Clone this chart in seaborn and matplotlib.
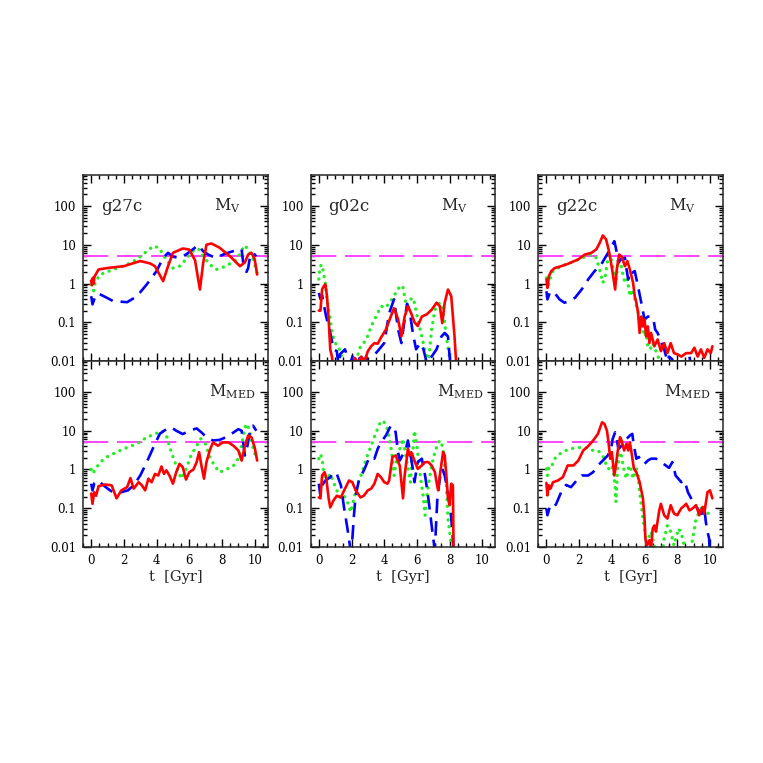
import numpy as np
import pandas as pd
import matplotlib
matplotlib.use("Agg")
import matplotlib.pyplot as plt
import seaborn as sns
from matplotlib.ticker import FixedLocator, LogLocator, MultipleLocator, NullFormatter

# ---------------- data ----------------
galaxies = ["g27c", "g02c", "g22c"]
rows = ["V", "MED"]

# g27c, M_V
a_v_red_t = [0, 0.05, 0.1, 0.15, 0.2, 0.45, 0.95, 2.0, 3.0, 3.6, 3.9, 4.4, 4.7, 5.0, 5.6, 6.0, 6.35, 6.65, 6.85, 7.05, 7.35, 7.85, 8.5, 9.1, 9.4, 9.6, 9.8, 10.0, 10.15]
a_v_red_y = [1.2, 0.9, 1.4, 1.0, 1.5, 2.3, 2.5, 2.8, 3.8, 3.3, 2.8, 1.15, 2.8, 6.2, 8.0, 7.5, 4.0, 0.7, 3.4, 10.0, 10.8, 8.4, 5.0, 2.8, 3.5, 5.6, 6.2, 4.2, 1.7]
a_v_blue_t = [0, 0.08, 0.25, 0.45, 0.95, 1.35, 2.2, 2.8, 3.4, 4.0, 4.4, 4.7, 5.0, 5.4, 5.8, 6.2, 6.55, 6.85, 7.15, 7.6, 8.25, 8.9, 9.2, 9.35, 9.5, 9.6, 9.7, 9.9, 10.1]
a_v_blue_y = [0.47, 0.29, 0.47, 0.55, 0.43, 0.35, 0.33, 0.47, 0.95, 2.1, 4.6, 6.2, 4.9, 4.6, 5.6, 7.5, 9.8, 6.8, 5.6, 4.6, 6.0, 7.3, 7.5, 2.3, 2.0, 2.5, 4.5, 6.2, 5.0]
a_v_green_t = [0, 0.15, 0.25, 0.55, 1.35, 2.2, 2.8, 3.4, 3.8, 4.15, 4.45, 4.75, 5.0, 5.4, 5.8, 6.2, 6.55, 6.85, 7.25, 7.65, 8.25, 8.9, 9.3, 9.4, 9.6, 9.9, 10.15]
a_v_green_y = [0.95, 0.65, 1.1, 1.7, 2.3, 3.1, 4.2, 6.8, 9.2, 8.4, 5.1, 3.4, 2.5, 2.8, 4.2, 6.8, 8.0, 5.0, 3.1, 2.3, 2.8, 4.2, 8.4, 9.6, 7.5, 4.2, 1.9]

# g27c, M_MED
a_m_red_t = [0, 0.08, 0.18, 0.3, 0.45, 0.85, 1.25, 1.55, 1.85, 2.2, 2.4, 2.6, 2.9, 3.1, 3.3, 3.5, 3.7, 3.9, 4.1, 4.3, 4.45, 4.6, 4.8, 5.0, 5.2, 5.4, 5.6, 5.8, 6.0, 6.25, 6.45, 6.6, 6.75, 6.9, 7.05, 7.25, 7.45, 7.75, 8.05, 8.4, 8.7, 9.0, 9.2, 9.4, 9.6, 9.8, 10.0, 10.15]
a_m_red_y = [0.24, 0.13, 0.26, 0.21, 0.37, 0.41, 0.39, 0.18, 0.29, 0.35, 0.6, 0.32, 0.47, 0.39, 0.29, 0.58, 0.47, 0.77, 0.7, 1.2, 0.77, 0.95, 0.68, 0.43, 0.85, 1.4, 1.15, 0.55, 0.85, 1.0, 1.55, 2.8, 1.2, 0.58, 1.55, 3.1, 5.0, 4.1, 5.0, 5.0, 4.1, 3.1, 1.7, 4.1, 7.5, 6.8, 3.7, 1.7]
a_m_blue_t = [0, 0.08, 0.2, 0.45, 0.75, 1.15, 1.45, 1.85, 2.25, 2.6, 3.0, 3.4, 3.8, 4.2, 4.6, 4.9, 5.2, 5.6, 6.0, 6.45, 6.75, 7.05, 7.45, 7.85, 8.25, 8.7, 9.0, 9.2, 9.4, 9.55, 9.7, 9.9, 10.1]
a_m_blue_y = [0.43, 0.29, 0.45, 0.52, 0.39, 0.29, 0.24, 0.26, 0.29, 0.39, 0.7, 1.55, 3.7, 8.4, 11, 12.3, 10, 8.2, 10, 11.5, 9, 6.8, 5.6, 5.8, 6.8, 9, 11, 10, 2.3, 4.0, 9, 13.5, 10]
a_m_green_t = [0, 0.1, 0.25, 0.55, 0.95, 1.55, 2.2, 2.8, 3.4, 3.9, 4.3, 4.6, 4.9, 5.2, 5.5, 5.8, 6.1, 6.45, 6.7, 7.0, 7.25, 7.55, 7.85, 8.25, 8.7, 9.0, 9.2, 9.4, 9.55, 9.7, 9.9, 10.1]
a_m_green_y = [1.0, 0.78, 1.0, 1.55, 2.1, 2.8, 3.7, 4.6, 6.8, 8.2, 10, 7.5, 2.8, 1.25, 0.58, 1.0, 2.3, 4.1, 6.2, 4.5, 2.1, 1.25, 0.85, 1.0, 1.25, 1.9, 4.1, 12.3, 15, 9, 3.7, 1.9]

# g02c, M_V
b_v_red_t = [0, 0.1, 0.2, 0.3, 0.4, 0.5, 0.6, 0.7, 0.8, 0.9, 1.1, 1.5, 2.0, 2.2, 2.4, 2.6, 2.8, 3.0, 3.2, 3.4, 3.6, 3.8, 4.1, 4.4, 4.6, 4.85, 5.05, 5.25, 5.45, 5.65, 5.85, 6.05, 6.3, 6.6, 6.9, 7.2, 7.4, 7.55, 7.7, 7.9, 8.1, 8.3, 8.45]
b_v_red_y = [0.2, 0.2, 0.7, 0.85, 0.95, 0.47, 0.12, 0.02, 0.013, 0.006, 0.004, 0.003, 0.006, 0.012, 0.009, 0.013, 0.01, 0.018, 0.024, 0.029, 0.028, 0.04, 0.065, 0.14, 0.23, 0.12, 0.043, 0.14, 0.26, 0.17, 0.1, 0.08, 0.14, 0.16, 0.21, 0.32, 0.26, 0.095, 0.32, 0.7, 0.47, 0.043, 0.004]
b_v_blue_t = [0, 0.1, 0.2, 0.3, 0.45, 0.7, 0.9, 1.1, 1.2, 1.3, 1.6, 1.9, 2.1, 2.3, 2.5, 2.7, 2.9, 3.1, 3.3, 3.6, 4.0, 4.3, 4.6, 4.85, 5.05, 5.25, 5.4, 5.55, 5.75, 5.95, 6.2, 6.4, 6.6, 6.9, 7.2, 7.5, 7.7, 7.9, 8.0, 8.1]
b_v_blue_y = [0.57, 0.4, 0.5, 0.3, 0.14, 0.053, 0.02, 0.018, 0.008, 0.015, 0.02, 0.008, 0.015, 0.005, 0.012, 0.006, 0.013, 0.005, 0.013, 0.018, 0.029, 0.17, 0.39, 0.065, 0.029, 0.12, 0.3, 0.2, 0.053, 0.02, 0.029, 0.02, 0.009, 0.013, 0.02, 0.043, 0.053, 0.043, 0.013, 0.004]
b_v_green_t = [0, 0.05, 0.15, 0.25, 0.4, 0.5, 0.7, 0.8, 1.0, 1.2, 1.45, 1.65, 1.9, 2.1, 2.3, 2.55, 2.9, 3.2, 3.5, 3.8, 4.1, 4.4, 4.7, 5.0, 5.15, 5.35, 5.55, 5.7, 5.85, 6.05, 6.3, 6.5, 6.7, 6.9, 7.1, 7.4, 7.6, 7.8, 8.0, 8.2]
b_v_green_y = [1.3, 2.3, 3.1, 2.3, 1.0, 0.38, 0.12, 0.055, 0.029, 0.024, 0.011, 0.008, 0.006, 0.008, 0.011, 0.024, 0.035, 0.078, 0.14, 0.26, 0.24, 0.35, 0.57, 0.9, 0.78, 0.26, 0.35, 0.43, 0.32, 0.12, 0.043, 0.018, 0.009, 0.065, 0.21, 0.32, 0.21, 0.043, 0.012, 0.005]

# g02c, M_MED
b_m_red_t = [0, 0.1, 0.2, 0.35, 0.45, 0.6, 0.7, 0.9, 1.1, 1.35, 1.55, 1.85, 2.05, 2.25, 2.55, 2.75, 3.0, 3.2, 3.4, 3.6, 3.8, 4.0, 4.2, 4.3, 4.5, 4.7, 4.95, 5.15, 5.25, 5.45, 5.55, 5.65, 5.85, 6.05, 6.3, 6.5, 6.7, 6.9, 7.1, 7.2, 7.3, 7.4, 7.6, 7.7, 7.8, 7.9, 8.0, 8.1, 8.2, 8.25]
b_m_red_y = [0.19, 0.18, 0.7, 0.85, 0.63, 0.18, 0.105, 0.16, 0.21, 0.19, 0.29, 0.52, 0.47, 0.29, 0.19, 0.21, 0.29, 0.32, 0.43, 0.77, 0.63, 0.47, 0.43, 0.52, 2.1, 2.3, 1.25, 0.18, 0.7, 3.4, 2.3, 2.8, 1.7, 1.04, 1.27, 1.55, 1.55, 1.27, 0.85, 0.47, 0.29, 0.7, 2.8, 2.3, 0.7, 0.18, 0.12, 0.43, 0.39, 0.004]
b_m_blue_t = [0, 0.1, 0.2, 0.4, 0.7, 0.9, 1.1, 1.35, 1.55, 1.75, 1.9, 1.95, 2.05, 2.15, 2.25, 2.45, 2.8, 3.1, 3.4, 3.6, 3.8, 4.1, 4.4, 4.6, 4.7, 4.85, 4.95, 5.15, 5.35, 5.45, 5.6, 5.75, 5.85, 6.05, 6.3, 6.5, 6.7, 6.85, 7.0, 7.1, 7.25, 7.4, 7.55, 7.7, 7.9, 8.0, 8.1, 8.2, 8.3]
b_m_blue_y = [0.43, 0.21, 0.39, 0.52, 0.63, 0.85, 0.77, 0.39, 0.1, 0.03, 0.011, 0.004, 0.016, 0.066, 0.21, 0.52, 1.04, 2.1, 1.9, 3.4, 5.0, 7.5, 13.5, 12.3, 9, 2.8, 1.7, 2.5, 3.75, 5.6, 2.5, 1.04, 0.47, 1.55, 1.9, 0.7, 0.18, 0.054, 0.016, 0.009, 0.18, 0.58, 1.04, 0.7, 0.26, 0.145, 0.054, 0.016, 0.004]
b_m_green_t = [0, 0.1, 0.2, 0.3, 0.4, 0.5, 0.7, 0.9, 1.1, 1.35, 1.55, 1.75, 1.95, 2.15, 2.35, 2.65, 2.9, 3.2, 3.5, 3.8, 4.0, 4.2, 4.4, 4.5, 4.6, 4.8, 4.95, 5.15, 5.35, 5.45, 5.6, 5.75, 5.85, 6.0, 6.15, 6.4, 6.5, 6.6, 6.7, 6.9, 7.1, 7.3, 7.45, 7.6, 7.8, 7.9, 8.0, 8.1, 8.2]
b_m_green_y = [1.9, 2.5, 1.9, 0.85, 0.47, 0.58, 0.77, 0.47, 0.29, 0.18, 0.21, 0.145, 0.08, 0.18, 0.39, 0.85, 1.9, 4.1, 9, 18, 16.5, 11, 4.1, 1.9, 0.7, 2.3, 3.4, 6.2, 1.9, 1.04, 0.47, 2.8, 10, 4.1, 1.04, 0.18, 0.066, 0.18, 0.39, 1.27, 2.8, 5.0, 5.6, 3.4, 0.39, 0.054, 0.025, 0.011, 0.004]

# g22c, M_V
c_v_red_t = [0, 0.06, 0.15, 0.3, 0.5, 0.9, 1.3, 1.95, 2.35, 2.75, 3.05, 3.25, 3.45, 3.65, 3.8, 3.9, 4.05, 4.2, 4.3, 4.45, 4.6, 4.8, 4.95, 5.1, 5.3, 5.4, 5.5, 5.6, 5.7, 5.8, 5.9, 6.0, 6.1, 6.2, 6.3, 6.4, 6.6, 6.8, 7.0, 7.2, 7.4, 7.6, 7.8, 8.0, 8.25, 8.55, 8.85, 9.05, 9.25, 9.45, 9.65, 9.85, 10.05, 10.15]
c_v_red_y = [1.27, 0.77, 1.55, 2.1, 2.5, 2.8, 3.2, 4.2, 5.6, 6.2, 7.6, 11, 17.4, 13.7, 7.6, 4.6, 1.9, 0.7, 2.3, 5.6, 4.9, 2.8, 3.8, 2.3, 1.04, 0.47, 0.32, 0.18, 0.053, 0.14, 0.078, 0.117, 0.043, 0.078, 0.029, 0.053, 0.024, 0.036, 0.018, 0.029, 0.016, 0.029, 0.016, 0.015, 0.013, 0.016, 0.016, 0.022, 0.013, 0.02, 0.012, 0.02, 0.016, 0.024]
c_v_blue_t = [0, 0.06, 0.2, 0.3, 0.5, 0.8, 1.1, 1.4, 1.75, 2.15, 2.55, 2.95, 3.35, 3.65, 3.95, 4.15, 4.25, 4.4, 4.55, 4.8, 4.9, 5.0, 5.1, 5.25, 5.4, 5.6, 5.8, 6.0, 6.2, 6.4, 6.55, 6.65, 6.8, 7.0, 7.2, 7.4, 7.5, 7.7, 7.8, 8.0, 8.6, 8.75, 8.9]
c_v_blue_y = [0.63, 0.39, 0.57, 0.52, 0.57, 0.39, 0.32, 0.35, 0.43, 0.7, 1.27, 2.1, 3.1, 5.1, 8.2, 12.4, 8.2, 3.4, 4.2, 4.6, 2.3, 1.27, 2.1, 1.9, 2.1, 0.85, 0.32, 0.117, 0.14, 0.14, 0.117, 0.065, 0.053, 0.032, 0.02, 0.0098, 0.013, 0.011, 0.006, 0.005, 0.006, 0.013, 0.005]
c_v_green_t = [0, 0.1, 0.2, 0.4, 0.9, 1.75, 2.35, 2.75, 3.05, 3.25, 3.45, 3.6, 3.75, 3.9, 4.0, 4.15, 4.25, 4.35, 4.5, 4.65, 4.8, 4.95, 5.1, 5.25, 5.4, 5.55, 5.7, 5.8, 5.9, 6.0, 6.1, 6.2, 6.35, 6.5, 6.65, 6.8, 7.0]
c_v_green_y = [1.4, 0.77, 1.27, 2.1, 2.8, 3.8, 4.9, 5.6, 4.6, 2.3, 1.04, 1.55, 4.2, 5.6, 3.4, 1.9, 1.04, 2.8, 4.2, 1.9, 1.04, 1.27, 0.47, 0.7, 0.43, 0.21, 0.14, 0.078, 0.065, 0.043, 0.053, 0.024, 0.02, 0.029, 0.02, 0.0145, 0.007]

# g22c, M_MED
c_m_red_t = [0, 0.06, 0.15, 0.25, 0.4, 0.7, 1.0, 1.3, 1.65, 1.95, 2.25, 2.55, 2.85, 3.15, 3.4, 3.55, 3.7, 3.8, 3.9, 4.0, 4.15, 4.25, 4.35, 4.5, 4.6, 4.75, 4.9, 5.0, 5.1, 5.2, 5.35, 5.5, 5.7, 5.9, 6.0, 6.05, 6.15, 6.3, 6.4, 6.5, 6.6, 6.7, 6.9, 7.0, 7.2, 7.4, 7.6, 7.8, 8.0, 8.25, 8.35, 8.55, 8.75, 8.95, 9.15, 9.35, 9.55, 9.65, 9.85, 10.0, 10.15]
c_m_red_y = [0.45, 0.215, 0.39, 0.32, 0.47, 0.52, 0.63, 1.27, 1.27, 1.7, 3.1, 4.0, 5.55, 8.3, 16.5, 15, 10, 5.0, 1.9, 2.8, 0.7, 1.27, 2.8, 6.8, 5.55, 3.1, 4.6, 3.1, 5.0, 2.8, 1.04, 0.85, 0.47, 0.18, 0.054, 0.0165, 0.011, 0.015, 0.009, 0.03, 0.036, 0.025, 0.088, 0.13, 0.066, 0.054, 0.12, 0.073, 0.066, 0.1, 0.108, 0.13, 0.088, 0.1, 0.12, 0.066, 0.108, 0.073, 0.26, 0.29, 0.18]
c_m_blue_t = [0, 0.06, 0.2, 0.4, 0.6, 0.9, 1.2, 1.5, 1.85, 2.15, 2.55, 2.85, 3.15, 3.45, 3.75, 3.95, 4.05, 4.2, 4.3, 4.4, 4.6, 4.8, 5.1, 5.25, 5.35, 5.5, 5.65, 5.8, 6.0, 6.2, 6.4, 6.7, 7.0, 7.3, 7.5, 7.7, 7.9, 8.25, 8.45, 8.65, 8.85, 9.05, 9.25, 9.4, 9.55, 9.65, 9.75, 9.85, 9.95, 10.0]
c_m_blue_y = [0.098, 0.066, 0.108, 0.098, 0.13, 0.26, 0.4, 0.35, 0.52, 0.7, 0.7, 0.85, 1.27, 1.7, 2.3, 3.4, 6.1, 9.1, 6.1, 3.4, 4.1, 5.55, 7.5, 8.3, 4.1, 1.9, 2.1, 1.55, 1.4, 1.7, 1.9, 1.9, 1.55, 1.27, 1.1, 1.55, 0.7, 0.47, 0.52, 0.26, 0.18, 0.12, 0.098, 0.073, 0.073, 0.108, 0.044, 0.025, 0.0165, 0.005]
c_m_green_t = [0, 0.06, 0.15, 0.3, 0.5, 0.8, 1.2, 1.6, 2.15, 2.55, 2.85, 3.15, 3.35, 3.55, 3.7, 3.85, 4.0, 4.1, 4.2, 4.25, 4.35, 4.45, 4.55, 4.65, 4.8, 4.9, 5.0, 5.1, 5.2, 5.3, 5.4, 5.5, 5.6, 5.7, 5.8, 5.9, 6.0, 6.1, 6.2, 6.3, 6.4, 6.5, 6.65, 6.8, 7.0, 7.2, 7.4, 7.6, 7.8, 7.9, 8.1, 8.35, 8.45, 8.7, 8.95, 9.15, 9.35, 9.55, 9.75, 9.95, 10.05]
c_m_green_y = [1.04, 0.7, 1.15, 1.15, 1.9, 2.5, 3.1, 3.5, 3.75, 3.5, 3.1, 3.1, 2.5, 1.9, 1.1, 1.04, 1.27, 0.85, 0.39, 0.145, 1.04, 2.3, 2.8, 1.55, 0.77, 0.58, 1.04, 1.27, 0.85, 0.58, 0.77, 1.04, 0.7, 0.26, 0.12, 0.054, 0.03, 0.015, 0.0083, 0.02, 0.025, 0.0165, 0.009, 0.005, 0.004, 0.0165, 0.036, 0.025, 0.011, 0.0165, 0.03, 0.0165, 0.009, 0.005, 0.0165, 0.054, 0.08, 0.12, 0.098, 0.066, 0.08]

threshold = 5.0
x_ticks = [0, 2, 4, 6, 8, 10]
y_ticks = [0.01, 0.1, 1, 10, 100]
y_tick_labels = ["0.01", "0.1", "1", "10", "100"]

panels = {
    ("g27c", "V"): [(a_v_red_t, a_v_red_y), (a_v_blue_t, a_v_blue_y), (a_v_green_t, a_v_green_y)],
    ("g27c", "MED"): [(a_m_red_t, a_m_red_y), (a_m_blue_t, a_m_blue_y), (a_m_green_t, a_m_green_y)],
    ("g02c", "V"): [(b_v_red_t, b_v_red_y), (b_v_blue_t, b_v_blue_y), (b_v_green_t, b_v_green_y)],
    ("g02c", "MED"): [(b_m_red_t, b_m_red_y), (b_m_blue_t, b_m_blue_y), (b_m_green_t, b_m_green_y)],
    ("g22c", "V"): [(c_v_red_t, c_v_red_y), (c_v_blue_t, c_v_blue_y), (c_v_green_t, c_v_green_y)],
    ("g22c", "MED"): [(c_m_red_t, c_m_red_y), (c_m_blue_t, c_m_blue_y), (c_m_green_t, c_m_green_y)],
}

# ---------------- style ----------------
sns.set_style("ticks")
plt.rcParams["font.family"] = ["DejaVu Serif"]
plt.rcParams["mathtext.fontset"] = "dejavuserif"

styles = [
    dict(color="#ff0000", lw=1.9, linestyle="-"),
    dict(color="#0000ff", lw=1.9, linestyle=(0, (5.5, 3.0))),
    dict(color="#22ee22", lw=2.4, linestyle=(0, (0.05, 2.0)), dash_capstyle="round"),
]
order = [2, 1, 0]  # draw green, blue, then red

fig = plt.figure(figsize=(7.63, 7.63), dpi=100)
gs = fig.add_gridspec(2, 3, left=0.1088, right=0.9476, top=0.7706, bottom=0.2831,
                      hspace=0.0, wspace=0.232)

for ci, gal in enumerate(galaxies):
    for ri, row in enumerate(rows):
        ax = fig.add_subplot(gs[ri, ci])
        ax.set_yscale("log")
        ax.set_xlim(-0.5, 10.8)
        ax.set_ylim(0.01, 630)
        for k in order:
            t, v = panels[(gal, row)][k]
            df = pd.DataFrame({"t": t, "v": v})
            sns.lineplot(data=df, x="t", y="v", ax=ax, estimator=None, sort=False,
                         **styles[k])
        ax.axhline(threshold, color="#ff44ff", lw=1.4, linestyle=(0, (13, 4.5)), zorder=1)

        ax.yaxis.set_major_locator(FixedLocator(y_ticks))
        ax.set_yticklabels(y_tick_labels)
        ax.yaxis.set_minor_locator(LogLocator(base=10, subs=np.arange(2, 10), numticks=20))
        ax.yaxis.set_minor_formatter(NullFormatter())
        ax.xaxis.set_major_locator(FixedLocator(x_ticks))
        ax.xaxis.set_minor_locator(MultipleLocator(0.5))
        ax.tick_params(which="both", direction="in", top=True, right=True,
                       width=1.0, labelsize=8.5, colors="black")
        ax.tick_params(which="major", length=6, pad=5)
        ax.tick_params(which="minor", length=3)
        for s in ax.spines.values():
            s.set_linewidth(1.1)
        ax.set_ylabel("")
        if ri == 0:
            ax.set_xlabel("")
            ax.set_xticklabels([])
            ax.text(0.6, 100, gal, fontsize=12, va="center", ha="left")
            ax.text(7.5, 100, r"M$_{\mathrm{V}}$", fontsize=11.5, va="center", ha="left")
        else:
            ax.set_xticklabels([str(x) for x in x_ticks])
            ax.set_xlabel("t  [Gyr]", fontsize=10.5, labelpad=2)
            ax.text(7.2, 100, r"M$_{\mathrm{MED}}$", fontsize=11.5, va="center", ha="left")

fig.savefig("out.png", dpi=100)
